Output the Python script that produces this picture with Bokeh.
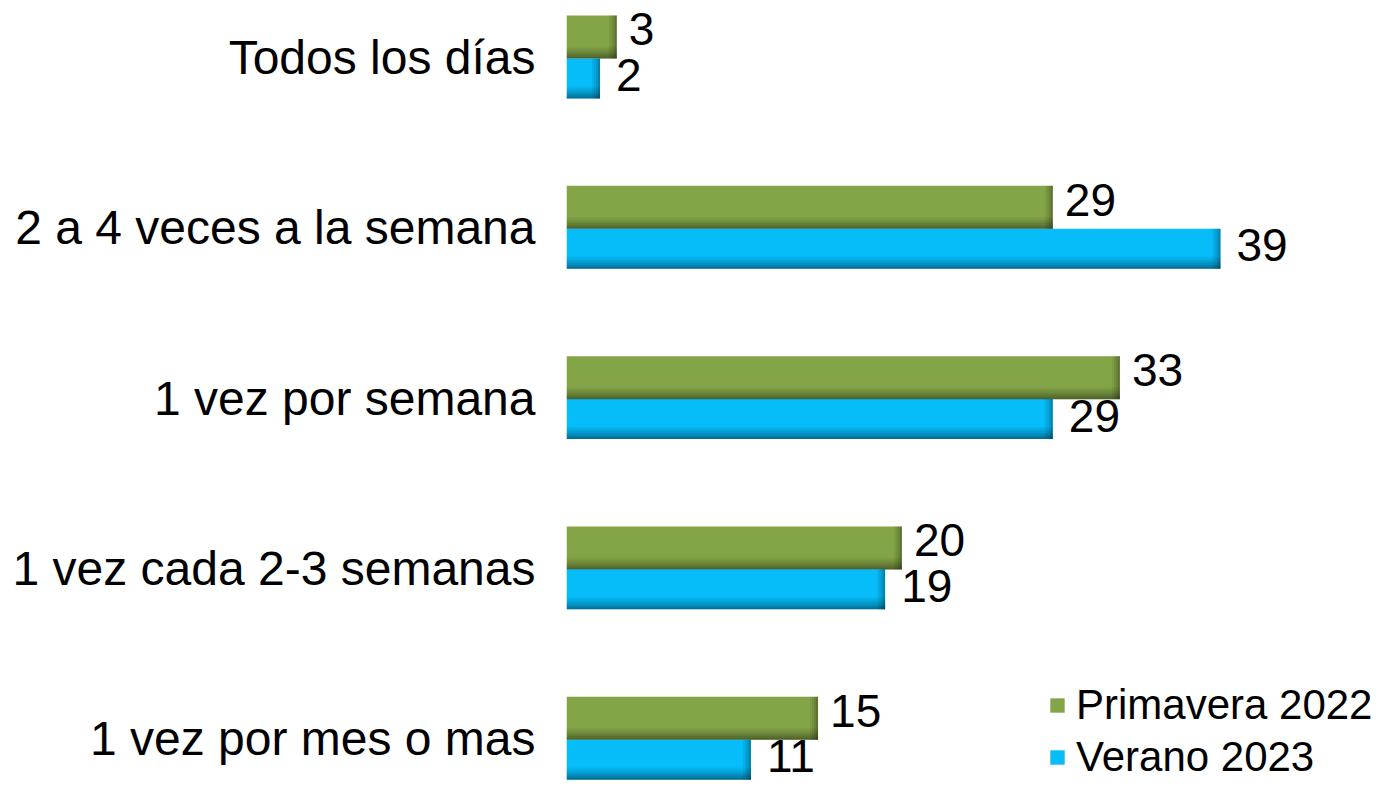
from bokeh.plotting import figure
from bokeh.models import Range1d, FixedTicker, ColumnDataSource, Legend, LegendItem
from bokeh.core.properties import value
from bokeh.embed import file_html
from bokeh.resources import INLINE

categories = ["Todos los días", "2 a 4 veces a la semana", "1 vez por semana",
              "1 vez cada 2-3 semanas", "1 vez por mes o mas"]
primavera_2022 = [3, 29, 33, 20, 15]
verano_2023 = [2, 39, 29, 19, 11]
series_names = ["Primavera 2022", "Verano 2023"]

FONT = "Liberation Sans"
GREEN = "#84a547"
BLUE = "#06bcf9"

idx = list(range(len(categories)))
G_H = 0.2525
B_H = 0.235
g_y = [i - 0.120 for i in idx]
b_y = [i + 0.123 for i in idx]

p = figure(width=1379, height=784, x_range=Range1d(0, 48.48), y_range=Range1d(4.2689, -0.3347),
           output_backend="svg", toolbar_location=None,
           min_border_left=566, min_border_right=0, min_border_top=0, min_border_bottom=0)
p.xaxis.visible = False
p.xgrid.visible = False
p.ygrid.visible = False
p.outline_line_color = None
p.background_fill_color = "white"

src_g = ColumnDataSource(dict(y=g_y, right=primavera_2022))
src_b = ColumnDataSource(dict(y=b_y, right=verano_2023))
rg = p.hbar(y="y", right="right", left=0, height=G_H, source=src_g,
            fill_color=GREEN, line_color=None)
rb = p.hbar(y="y", right="right", left=0, height=B_H, source=src_b,
            fill_color=BLUE, line_color=None)

# pseudo-3D shading: darker bottom band and right edge
strip = 0.0117          # ~2px
alphas = [0.05, 0.10, 0.16, 0.23, 0.31, 0.40]
n = len(alphas)
for ys, vals, h in ((g_y, primavera_2022, G_H), (b_y, verano_2023, B_H)):
    for k, a in enumerate(alphas):
        off = h / 2 - strip * (n - k) + strip / 2
        p.hbar(y=[y + off for y in ys], right=vals, left=0, height=strip,
               fill_color="black", fill_alpha=a, line_color=None)
    xs = 0.12           # ~2px
    for k, a in enumerate([0.06, 0.12, 0.2, 0.3]):
        p.hbar(y=ys, right=[v - xs * (3 - k) for v in vals],
               left=[v - xs * (4 - k) for v in vals], height=h,
               fill_color="black", fill_alpha=a, line_color=None)

# value labels
p.text(x=primavera_2022, y=[y - 0.045 for y in g_y], text=[str(v) for v in primavera_2022],
       x_offset=12, text_baseline="middle", text_align="left", text_font=value(FONT),
       text_font_size="46px", text_color="black")
p.text(x=verano_2023, y=[y - 0.02 for y in b_y], text=[str(v) for v in verano_2023],
       x_offset=16, text_baseline="middle", text_align="left", text_font=value(FONT),
       text_font_size="46px", text_color="black")

ax = p.yaxis[0]
ax.ticker = FixedTicker(ticks=idx)
ax.major_label_overrides = {i: c for i, c in zip(idx, categories)}
ax.axis_line_color = None
ax.major_tick_line_color = None
ax.minor_tick_line_color = None
ax.major_tick_out = 0
ax.major_tick_in = 0
ax.major_label_standoff = 31
ax.major_label_text_font = FONT
ax.major_label_text_font_size = "48px"
ax.major_label_text_color = "black"

legend = Legend(items=[LegendItem(label=series_names[0], renderers=[rg]),
                       LegendItem(label=series_names[1], renderers=[rb])],
                location=(482, 3), glyph_width=18, glyph_height=18, label_standoff=10,
                padding=0, margin=0, spacing=4, border_line_color=None,
                background_fill_alpha=0, label_text_font=FONT, label_text_font_size="42px",
                label_text_color="black")
p.add_layout(legend, "center")

open("out.html", "w").write(file_html(p, INLINE))
